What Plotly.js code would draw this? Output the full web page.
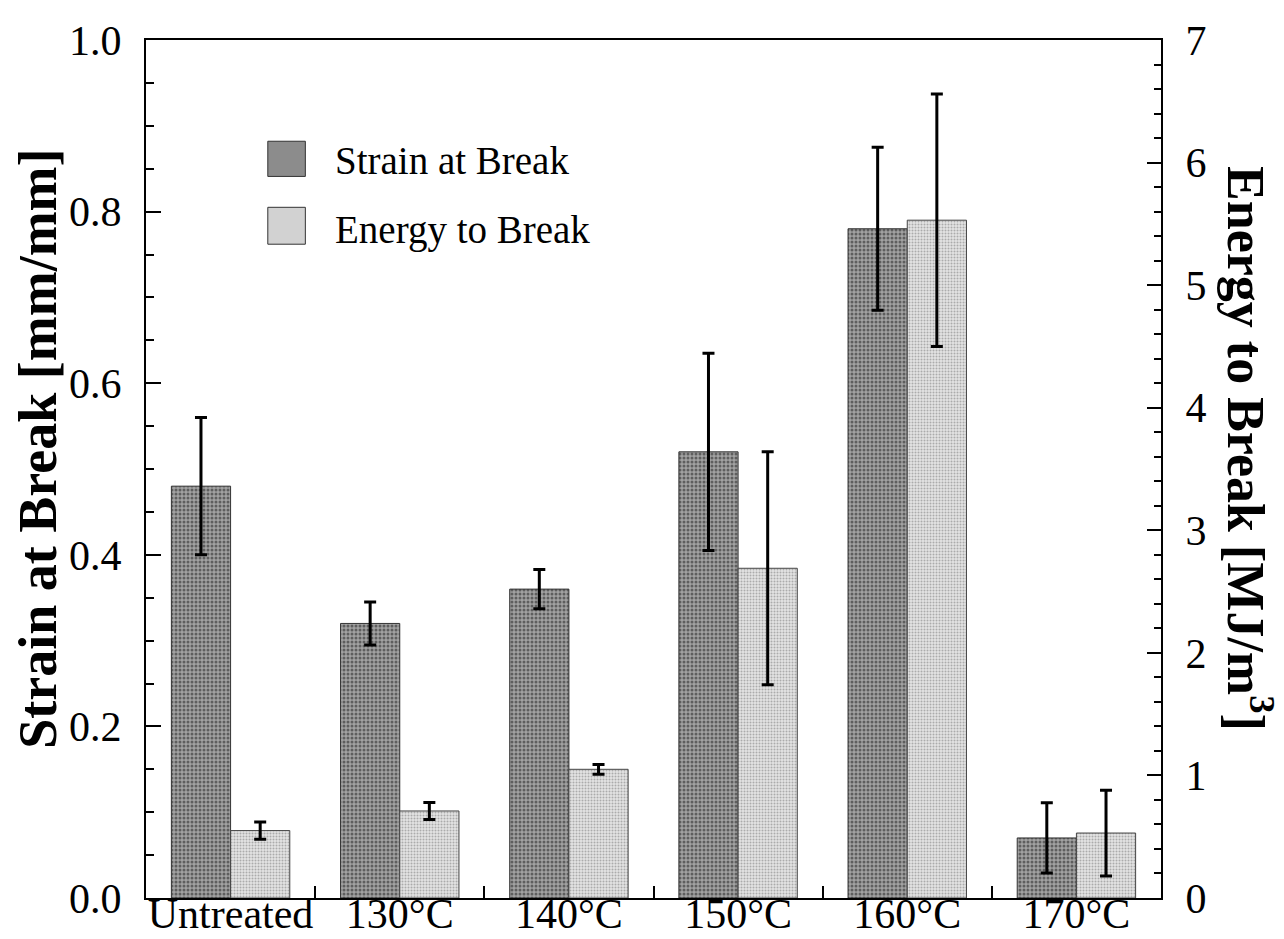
<!DOCTYPE html>
<html>
<head>
<meta charset="utf-8">
<script src="https://cdn.plot.ly/plotly-3.0.1.min.js"></script>
<style>
  html, body { margin: 0; padding: 0; background: #fff; }
  #chart { width: 1284px; height: 939px; }
</style>
</head>
<body>
<div id="chart"></div>
<script>
// ---- data ----
const categories = ['Untreated', '130°C', '140°C', '150°C', '160°C', '170°C'];
const strainName = 'Strain at Break';
const strainValues = [0.48, 0.32, 0.36, 0.52, 0.78, 0.07];
const strainErrors = [0.08, 0.025, 0.023, 0.115, 0.095, 0.041];
const energyName = 'Energy to Break';
const energyValues = [0.55, 0.71, 1.05, 2.69, 5.53, 0.53];
const energyErrors = [0.07, 0.07, 0.04, 0.95, 1.03, 0.35];
const leftTicks = [0, 0.2, 0.4, 0.6, 0.8, 1.0];
const rightTicks = [0, 1, 2, 3, 4, 5, 6, 7];
const leftTitle = '<b>Strain at Break [mm/mm]</b>';
const rightTitle = '<b>Energy to Break [MJ/m<sup>3</sup>]</b>';

const serif = '"Liberation Serif", "Times New Roman", Times, serif';
const darkFill = '#8c8c8c';
const lightFill = '#d2d2d2';

const strainTrace = {
  type: 'bar', name: strainName, x: categories, y: strainValues,
  yaxis: 'y', offsetgroup: 'a',
  marker: {
    color: darkFill,
    line: { color: '#333', width: 1 },
    pattern: { shape: '.', bgcolor: '#a2a2a2', fgcolor: '#5e5e5e', size: 4, solidity: 0.45, fillmode: 'replace' }
  },
  error_y: { type: 'data', array: strainErrors, visible: true, color: '#000', thickness: 3, width: 6 },
  showlegend: false
};
const energyTrace = {
  type: 'bar', name: energyName, x: categories, y: energyValues,
  yaxis: 'y2', offsetgroup: 'b',
  marker: {
    color: lightFill,
    line: { color: '#444', width: 1 },
    pattern: { shape: '.', bgcolor: '#e4e4e4', fgcolor: '#ababab', size: 3, solidity: 0.35, fillmode: 'replace' }
  },
  error_y: { type: 'data', array: energyErrors, visible: true, color: '#000', thickness: 3, width: 6 },
  showlegend: false
};

// manual legend (large swatches like the reference)
const legendItems = [
  { name: strainName, fill: darkFill, y0: 0.841, y1: 0.882, ty: 0.860 },
  { name: energyName, fill: lightFill, y0: 0.762, y1: 0.805, ty: 0.779 }
];
const shapes = legendItems.map(it => ({
  type: 'rect', xref: 'paper', yref: 'paper', x0: 0.120, x1: 0.157, y0: it.y0, y1: it.y1,
  fillcolor: it.fill, line: { color: '#333', width: 1 }
}));
const annotations = legendItems.map(it => ({
  xref: 'paper', yref: 'paper', x: 0.184, y: it.ty, xanchor: 'left', yanchor: 'middle',
  text: it.name, showarrow: false, font: { family: serif, size: 39, color: '#000' }
}));
// axis titles as rotated annotations (the right one reads top to bottom)
annotations.push({
  xref: 'paper', yref: 'paper', x: -0.106, y: 0.524, xanchor: 'center', yanchor: 'middle',
  text: leftTitle, textangle: -90, showarrow: false, font: { family: serif, size: 54, color: '#000' }
});
annotations.push({
  xref: 'paper', yref: 'paper', x: 1.087, y: 0.524, xanchor: 'center', yanchor: 'middle',
  text: rightTitle, textangle: 90, showarrow: false, font: { family: serif, size: 52, color: '#000' }
});

const layout = {
  width: 1284, height: 939,
  margin: { l: 146, r: 123, t: 40, b: 41, pad: 0 },
  paper_bgcolor: '#fff', plot_bgcolor: '#fff',
  barmode: 'group', bargap: 0.30, bargroupgap: 0,
  font: { family: serif, color: '#000' },
  xaxis: {
    type: 'category', showline: true, linecolor: '#000', linewidth: 2, mirror: true,
    ticks: 'inside', tickson: 'boundaries', ticklen: 12, tickwidth: 2, tickcolor: '#000',
    showgrid: false, zeroline: false, ticklabelstandoff: -22, tickangle: 0,
    tickfont: { family: serif, size: 42, color: '#000' }
  },
  yaxis: {
    range: [0, 1], tickvals: leftTicks, tickformat: '.1f',
    showline: true, linecolor: '#000', linewidth: 2,
    ticks: 'inside', ticklen: 15, tickwidth: 2, tickcolor: '#000',
    minor: { dtick: 0.05, ticks: 'inside', ticklen: 8, tickwidth: 2, tickcolor: '#000', showgrid: false },
    showgrid: false, zeroline: false, ticklabelstandoff: 14,
    tickfont: { family: serif, size: 42, color: '#000' }
  },
  yaxis2: {
    range: [0, 7], tickvals: rightTicks, overlaying: 'y', side: 'right',
    showline: true, linecolor: '#000', linewidth: 2,
    ticks: 'inside', ticklen: 14, tickwidth: 2, tickcolor: '#000',
    minor: { dtick: 0.2, ticks: 'inside', ticklen: 7, tickwidth: 2, tickcolor: '#000', showgrid: false },
    showgrid: false, zeroline: false, ticklabelstandoff: 14,
    tickfont: { family: serif, size: 42, color: '#000' }
  },
  shapes: shapes,
  annotations: annotations,
  showlegend: false
};

Plotly.newPlot('chart', [strainTrace, energyTrace], layout, { displayModeBar: false, staticPlot: true });
</script>
</body>
</html>
